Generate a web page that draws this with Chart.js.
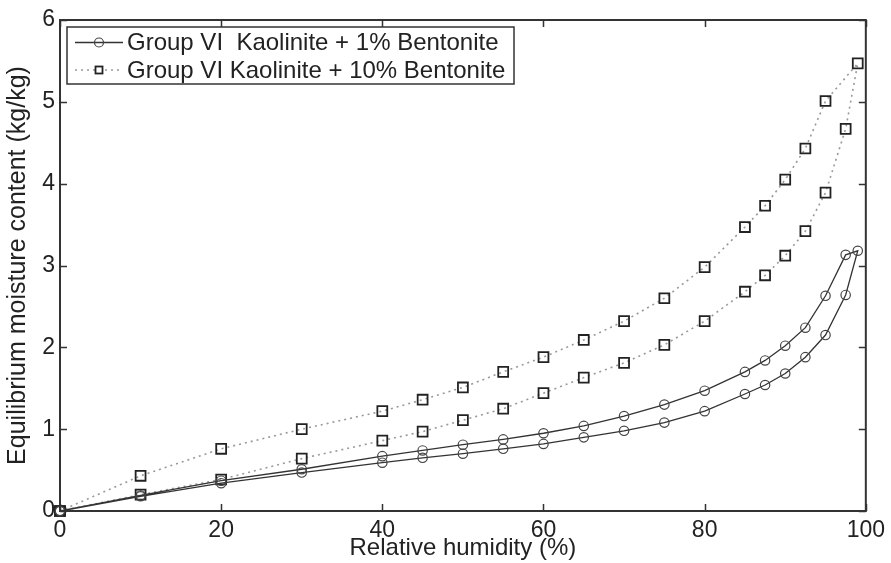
<!DOCTYPE html>
<html>
<head>
<meta charset="utf-8">
<script src="https://cdn.jsdelivr.net/npm/chart.js@4.4.1/dist/chart.umd.min.js"></script>
<style>
  html, body { margin: 0; padding: 0; background: #fff; }
  #wrap { width: 891px; height: 563px; position: relative; }
</style>
</head>
<body>
<div id="wrap"><canvas id="c" width="891" height="563"></canvas></div>
<script>
// ---- data ----
const seriesNames = ["Group VI  Kaolinite + 1% Bentonite", "Group VI Kaolinite + 10% Bentonite"];
const xTicks = [0, 20, 40, 60, 80, 100];
const yTicks = [0, 1, 2, 3, 4, 5, 6];

// Kaolinite + 1% Bentonite: adsorption (lower) then desorption (upper)
const k1AdsX = [0, 10, 20, 30, 40, 45, 50, 55, 60, 65, 70, 75, 80, 85, 87.5, 90, 92.5, 95, 97.5, 99];
const k1AdsY = [0, 0.18, 0.34, 0.47, 0.59, 0.65, 0.70, 0.76, 0.82, 0.90, 0.98, 1.08, 1.22, 1.43, 1.54, 1.68, 1.88, 2.15, 2.64, 3.18];
const k1DesX = [97.5, 95, 92.5, 90, 87.5, 85, 80, 75, 70, 65, 60, 55, 50, 45, 40, 30, 20, 10, 0];
const k1DesY = [3.13, 2.63, 2.24, 2.02, 1.84, 1.70, 1.47, 1.30, 1.16, 1.04, 0.95, 0.875, 0.81, 0.74, 0.67, 0.51, 0.37, 0.19, 0];

// Kaolinite + 10% Bentonite
const k10AdsX = [0, 10, 20, 30, 40, 45, 50, 55, 60, 65, 70, 75, 80, 85, 87.5, 90, 92.5, 95, 97.5, 99];
const k10AdsY = [0, 0.20, 0.385, 0.64, 0.86, 0.97, 1.11, 1.25, 1.44, 1.63, 1.81, 2.03, 2.32, 2.68, 2.88, 3.12, 3.42, 3.89, 4.67, 5.47];
const k10DesX = [95, 92.5, 90, 87.5, 85, 80, 75, 70, 65, 60, 55, 50, 45, 40, 30, 20, 10, 0];
const k10DesY = [5.01, 4.43, 4.05, 3.73, 3.47, 2.98, 2.60, 2.32, 2.09, 1.88, 1.70, 1.51, 1.36, 1.22, 1.00, 0.76, 0.43, 0];

function pts(xs, ys) { return xs.map((x, i) => ({ x: x, y: ys[i] })); }

const FONT = "'Liberation Sans', Arial, Helvetica, sans-serif";

const frameAndTicks = {
  id: 'frameAndTicks',
  afterDatasetsDraw(chart) {
    const { ctx, chartArea: a, scales } = chart;
    const tl = 7;
    ctx.save();
    ctx.strokeStyle = '#333';
    ctx.lineWidth = 1.5;
    ctx.beginPath();
    scales.x.ticks.forEach(t => {
      const px = Math.round(scales.x.getPixelForValue(t.value)) + 0.5;
      ctx.moveTo(px, a.bottom); ctx.lineTo(px, a.bottom - tl);
      ctx.moveTo(px, a.top); ctx.lineTo(px, a.top + tl);
    });
    scales.y.ticks.forEach(t => {
      const py = Math.round(scales.y.getPixelForValue(t.value)) + 0.5;
      ctx.moveTo(a.left, py); ctx.lineTo(a.left + tl, py);
      ctx.moveTo(a.right, py); ctx.lineTo(a.right - tl, py);
    });
    ctx.stroke();
    ctx.lineWidth = 2;
    ctx.strokeRect(a.left, a.top, a.right - a.left, a.bottom - a.top);
    ctx.restore();
  }
};

const boxLegend = {
  id: 'boxLegend',
  afterDraw(chart) {
    const { ctx } = chart;
    const bx = 67, by = 27, bw = 447, bh = 57;
    ctx.save();
    ctx.fillStyle = '#fff';
    ctx.fillRect(bx, by, bw, bh);
    ctx.strokeStyle = '#333';
    ctx.lineWidth = 1.5;
    ctx.strokeRect(bx, by, bw, bh);
    const rows = [42.5, 70];
    chart.data.datasets.forEach((ds, i) => {
      const y = rows[i];
      ctx.beginPath();
      ctx.strokeStyle = ds.borderColor;
      ctx.lineWidth = ds.borderWidth;
      ctx.setLineDash(ds.borderDash || []);
      ctx.moveTo(75, y); ctx.lineTo(123, y);
      ctx.stroke();
      ctx.setLineDash([]);
      ctx.strokeStyle = ds.pointBorderColor;
      ctx.lineWidth = ds.pointBorderWidth;
      ctx.fillStyle = '#fff';
      if (ds.pointStyle === 'circle') {
        ctx.beginPath();
        ctx.arc(99, y, 4.5, 0, Math.PI * 2);
        ctx.stroke();
      } else {
        ctx.fillRect(95.5, y - 3.5, 7, 7);
        ctx.strokeRect(95.5, y - 3.5, 7, 7);
      }
      ctx.fillStyle = '#222';
      ctx.font = '24px ' + FONT;
      ctx.textBaseline = 'middle';
      ctx.textAlign = 'left';
      ctx.fillText(ds.label, 127, y + 1);
    });
    ctx.restore();
  }
};

new Chart(document.getElementById('c'), {
  type: 'line',
  data: {
    datasets: [
      {
        label: seriesNames[0],
        data: pts(k1AdsX, k1AdsY).concat(pts(k1DesX, k1DesY)),
        borderColor: '#333',
        borderWidth: 1.3,
        pointStyle: 'circle',
        pointRadius: 4.7,
        pointBorderColor: '#444',
        pointBorderWidth: 1.2,
        pointBackgroundColor: 'rgba(0,0,0,0)',
        tension: 0,
        clip: false
      },
      {
        label: seriesNames[1],
        data: pts(k10AdsX, k10AdsY).concat(pts(k10DesX, k10DesY)),
        borderColor: '#999',
        borderWidth: 1.6,
        borderDash: [2, 4],
        pointStyle: 'rect',
        pointRadius: 7,
        pointBorderColor: '#222',
        pointBorderWidth: 1.8,
        pointBackgroundColor: 'rgba(255,255,255,0)',
        tension: 0,
        clip: false
      }
    ]
  },
  options: {
    responsive: false,
    animation: false,
    devicePixelRatio: 1,
    layout: { padding: { top: 20, right: 23, left: 0, bottom: 0 } },
    plugins: { legend: { display: false }, tooltip: { enabled: false } },
    scales: {
      x: {
        type: 'linear',
        min: 0, max: 100,
        afterBuildTicks: s => { s.ticks = xTicks.map(v => ({ value: v })); },
        afterFit: s => { s.height = 52; },
        grid: { display: false, drawTicks: false },
        border: { display: false },
        ticks: { padding: 6, color: '#222', font: { family: FONT, size: 23 } },
        title: { display: true, text: 'Relative humidity (%)', color: '#222', padding: { top: 0, bottom: 0 }, font: { family: FONT, size: 24 } }
      },
      y: {
        type: 'linear',
        min: 0, max: 6,
        afterBuildTicks: s => { s.ticks = yTicks.map(v => ({ value: v })); },
        afterFit: s => { s.width = 60; },
        grid: { display: false, drawTicks: false },
        border: { display: false },
        ticks: { padding: 5, color: '#222', font: { family: FONT, size: 23 } },
        title: { display: true, text: 'Equilibrium moisture content (kg/kg)', color: '#222', padding: { top: 3, bottom: 0 }, font: { family: FONT, size: 25 } }
      }
    }
  },
  plugins: [frameAndTicks, boxLegend]
});
</script>
</body>
</html>
